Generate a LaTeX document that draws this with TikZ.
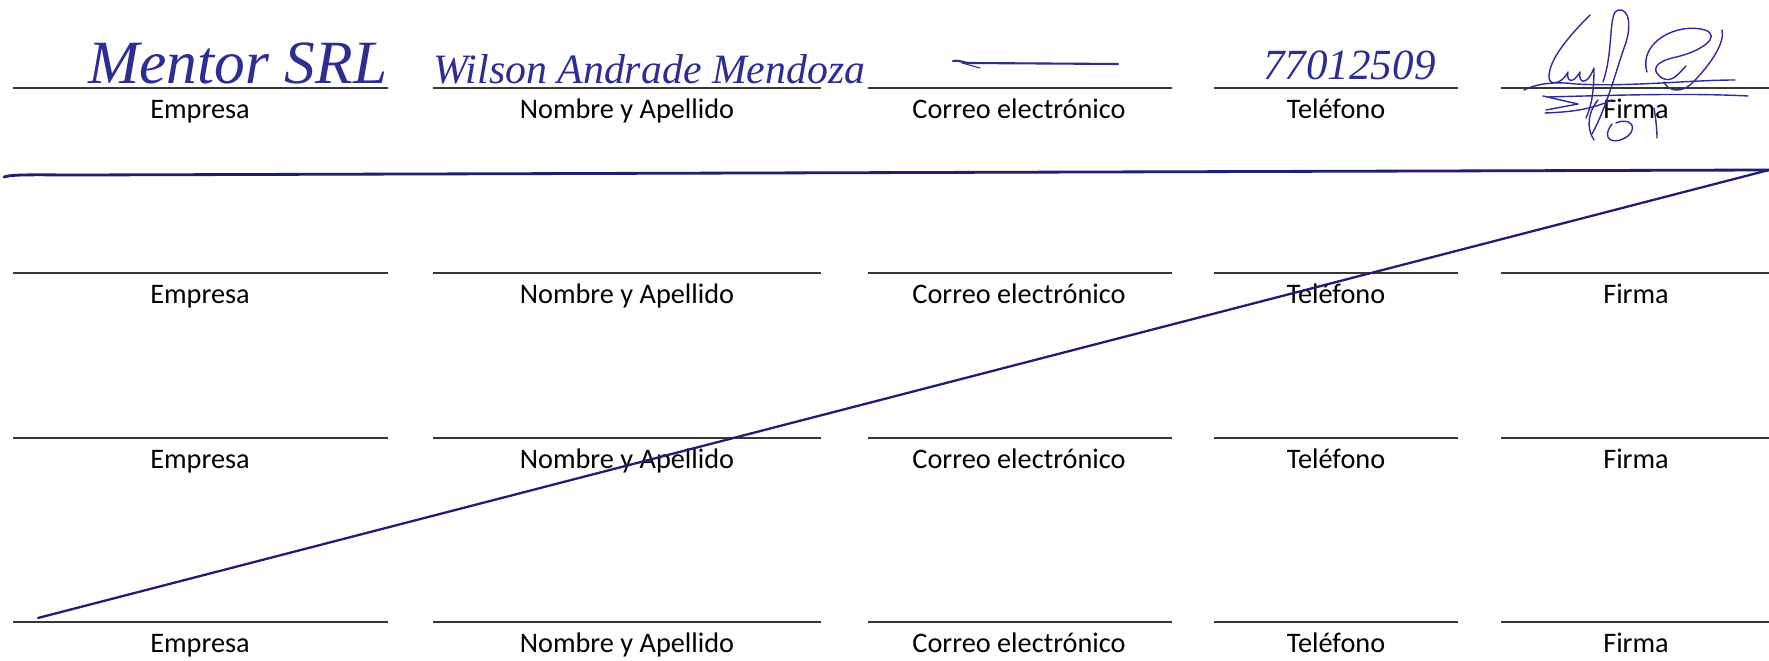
\documentclass[tikz,border=0pt]{standalone}
\usepackage{fontspec}
\setmainfont{Carlito}
\newfontfamily\handfont{Liberation Serif}
\definecolor{formgray}{RGB}{55,55,55}
\definecolor{inkblue}{RGB}{45,45,150}
\definecolor{navy}{RGB}{30,30,115}
\tikzset{
  formline/.style={draw=formgray, line width=1.1pt},
  lab/.style={font=\fontsize{16.1}{19}\selectfont, text=black, anchor=base, inner sep=0pt},
  hand/.style={text=inkblue, anchor=base west, inner sep=0pt},
  sig/.style={draw=inkblue, line width=0.8pt, line cap=round, line join=round},
  strike/.style={draw=navy, line width=1.6pt, line cap=round}
}
\begin{document}
\begin{tikzpicture}[x=0.02cm,y=-0.02cm]
\useasboundingbox (0,0) rectangle (1769,661);
\fill[white] (0,0) rectangle (1769,661);

% form lines and labels
\foreach \yy/\r in {88/1,273/2,438/3,622/4}{
  \foreach \a/\b/\cx/\t/\c in {13/388/200/Empresa/1, 433/821/627/Nombre y Apellido/2, 868/1172/1019/Correo electrónico/3, 1214/1458/1336/Teléfono/4, 1501/1769/1636/Firma/5}{
    \coordinate (ls-\r-\c) at (\a,\yy);
    \coordinate (le-\r-\c) at (\b,\yy);
    \draw[formline] (ls-\r-\c) -- (le-\r-\c);
    \node[lab] (t-\r-\c) at (\cx,\yy+31) {\t};
  }
}

% handwriting, row 1
\node[hand, font=\handfont\itshape\fontsize{35}{40}\selectfont] (empresa1) at (88,84) {Mentor SRL};
\node[hand, font=\handfont\itshape\fontsize{23.8}{28}\selectfont] (nombre1) at (433,84) {Wilson Andrade Mendoza};
\node[hand, font=\handfont\itshape\fontsize{24.5}{28}\selectfont] (tel1) at (1263,80) {77012509};

% e-mail dash
\draw[sig, line width=1.2pt] (953,61) .. controls (958,60) and (962,62) .. (968,63) -- (1118,64);
\draw[sig, line width=0.6pt] (962,63) -- (980,68);

% signature
\draw[sig] (1590,15) .. controls (1570,35) and (1548,60) .. (1549,78)
  .. controls (1550,86) and (1562,84) .. (1568,72)
  .. controls (1566,80) and (1572,86) .. (1580,72)
  .. controls (1578,82) and (1586,88) .. (1594,68)
  .. controls (1594,90) and (1592,105) .. (1586,118);
\draw[sig] (1603,82) .. controls (1614,50) and (1608,12) .. (1618,10)
  .. controls (1630,8) and (1632,28) .. (1624,48)
  .. controls (1614,78) and (1606,108) .. (1592,134);
\draw[sig] (1647,72) .. controls (1638,42) and (1678,22) .. (1705,30)
  .. controls (1722,36) and (1702,52) .. (1672,58)
  .. controls (1656,62) and (1650,70) .. (1662,78)
  .. controls (1672,84) and (1680,72) .. (1686,66);
\draw[sig] (1722,30) .. controls (1726,46) and (1702,74) .. (1690,85)
  .. controls (1680,93) and (1668,91) .. (1664,82);
\draw[sig] (1524,90) .. controls (1540,82) and (1560,82) .. (1576,84)
  .. controls (1630,87) and (1690,80) .. (1735,80);
\draw[sig] (1548,97) .. controls (1620,95) and (1690,93) .. (1748,96);
\draw[sig] (1543,96) -- (1578,104) -- (1546,110);
\draw[sig] (1545,113) .. controls (1570,112) and (1590,110) .. (1612,100);
\draw[sig] (1612,124) .. controls (1600,140) and (1614,146) .. (1628,136)
  .. controls (1638,127) and (1630,117) .. (1616,123);
\draw[sig] (1654,108) .. controls (1656,120) and (1657,130) .. (1657,138);
\draw[sig] (1598,100) .. controls (1588,112) and (1586,128) .. (1594,140);

% strike-through lines
\coordinate (hs) at (4,177);
\coordinate (he) at (1769,170);
\coordinate (ds) at (38,618);
\draw[strike] (hs) .. controls (12,174) and (40,175) .. (80,175) -- (he);
\draw[strike, line width=1.3pt] (ds) -- (he);
\end{tikzpicture}
\end{document}
